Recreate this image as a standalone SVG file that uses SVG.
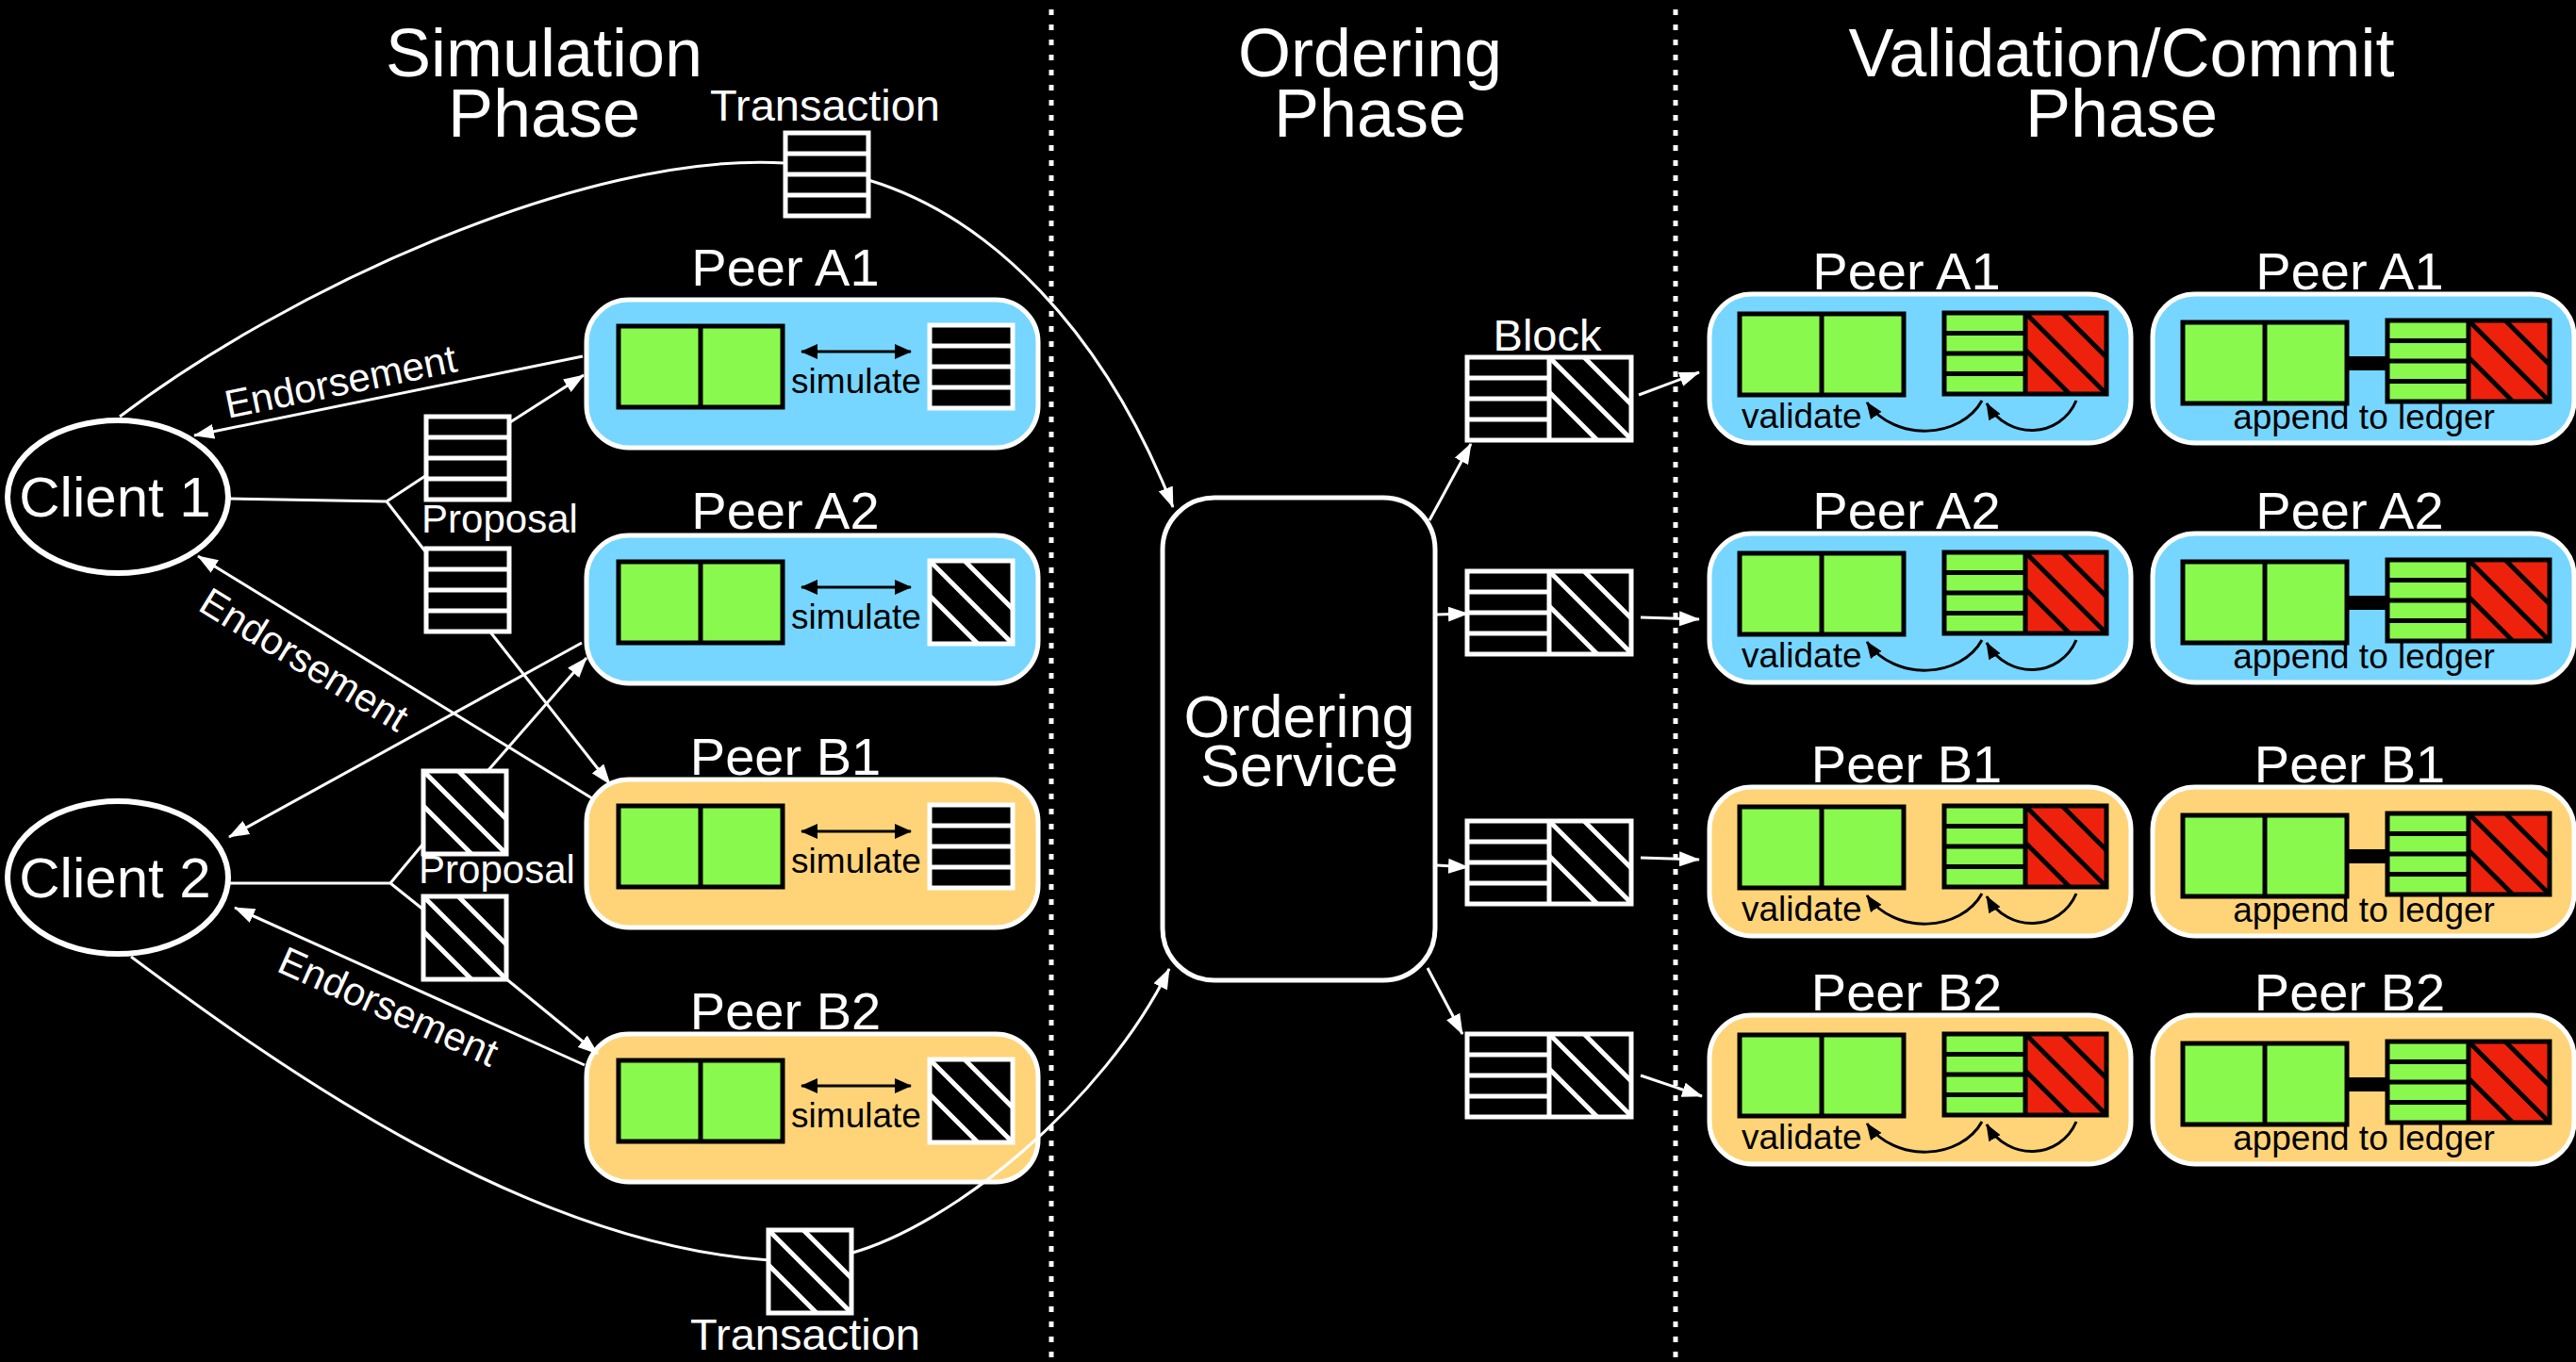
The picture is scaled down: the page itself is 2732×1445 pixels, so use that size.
<svg xmlns="http://www.w3.org/2000/svg" xmlns:xlink="http://www.w3.org/1999/xlink" width="2732" height="1445" viewBox="0 0 2732 1445">
  <style>
    text { font-family: "Liberation Sans", Arial, Helvetica, sans-serif; }
    .title { font-size: 72px; fill: #fff; text-anchor: middle; }
    .peer { font-size: 56px; fill: #fff; text-anchor: middle; }
    .client { font-size: 60px; fill: #fff; text-anchor: middle; }
    .lbl { font-size: 42px; fill: #fff; text-anchor: middle; }
    .tx { font-size: 47px; fill: #fff; text-anchor: middle; }
    .inner { font-size: 37px; fill: #000; }
    .mid { text-anchor: middle; }
    .box { stroke: #fff; stroke-width: 5; }
    .blue { fill: #76D6FF; }
    .tan { fill: #FFD479; }
    .conn { fill: none; stroke: #fff; stroke-width: 3; }
    .arr { marker-end: url(#ah); }
    .dark { fill: none; stroke: #000; stroke-width: 3; marker-end: url(#bh); }
    .darr { fill: none; stroke: #000; stroke-width: 3; marker-start: url(#bh2); marker-end: url(#bh2); }
    .divider { stroke: #fff; stroke-width: 5; stroke-dasharray: 6 10; }
  </style>
  <defs>
    <marker id="ah" markerUnits="userSpaceOnUse" markerWidth="22" markerHeight="16" refX="21" refY="8" orient="auto">
      <path d="M0,0 L22,8 L0,16 z" fill="#fff"/>
    </marker>
    <marker id="bh" markerUnits="userSpaceOnUse" markerWidth="18" markerHeight="14" refX="17" refY="7" orient="auto">
      <path d="M0,0 L18,7 L0,14 z" fill="#000"/>
    </marker>
    <marker id="bh2" markerUnits="userSpaceOnUse" markerWidth="18" markerHeight="16" refX="17" refY="8" orient="auto-start-reverse">
      <path d="M0,0 L18,8 L0,16 z" fill="#000"/>
    </marker>
    <!-- message with four entries (rows) -->
    <g id="txRows">
      <rect width="88" height="88" fill="#000" stroke="#fff" stroke-width="5"/>
      <path d="M0,22H88M0,44H88M0,66H88" stroke="#fff" stroke-width="5"/>
    </g>
    <!-- message drawn with diagonal hatching -->
    <g id="txHatch">
      <rect width="88" height="88" fill="#000" stroke="#fff" stroke-width="5"/>
      <path d="M37,0 L88,51 M0,0 L88,88 M0,37 L51,88" stroke="#fff" stroke-width="5"/>
    </g>
    <!-- world state: two green cells -->
    <g id="world">
      <rect width="174" height="86" fill="#8AF94E" stroke="#000" stroke-width="5"/>
      <path d="M87,0V86" stroke="#000" stroke-width="5"/>
    </g>
    <!-- ledger block: green rows plus red hatched half -->
    <g id="ledger">
      <rect width="86" height="86" fill="#8AF94E"/>
      <rect x="86" width="86" height="86" fill="#EE220C"/>
      <path d="M0,21.5H86M0,43H86M0,64.5H86" stroke="#000" stroke-width="5"/>
      <path d="M125,0 L172,47 M86,0 L172,86 M86,39 L133,86" stroke="#000" stroke-width="5"/>
      <rect width="172" height="86" fill="none" stroke="#000" stroke-width="5"/>
      <path d="M86,0V86" stroke="#000" stroke-width="5"/>
    </g>
    <!-- block: rows plus hatched half, white on black -->
    <g id="block">
      <rect width="174" height="88" fill="#000" stroke="#fff" stroke-width="5"/>
      <path d="M0,22H87M0,44H87M0,66H87M87,0V88" stroke="#fff" stroke-width="5"/>
      <path d="M124,0 L174,50 M87,0 L174,87 M87,37 L138,88" stroke="#fff" stroke-width="5"/>
    </g>
  </defs>

  <rect width="2732" height="1445" fill="#000"/>

  <!-- phase separators -->
  <g id="dividers">
    <line class="divider" x1="1115" y1="10" x2="1115" y2="1445"/>
    <line class="divider" x1="1777" y1="10" x2="1777" y2="1445"/>
  </g>

  <!-- phase titles -->
  <g id="titles">
    <text class="title" x="577" y="81">Simulation</text>
    <text class="title" x="577" y="145">Phase</text>
    <text class="title" x="1453" y="81">Ordering</text>
    <text class="title" x="1453" y="145">Phase</text>
    <text class="title" x="2250" y="81">Validation/Commit</text>
    <text class="title" x="2250" y="145">Phase</text>
  </g>

  <!-- clients -->
  <g id="client-1">
    <ellipse cx="125" cy="527" rx="117" ry="81" fill="#000" stroke="#fff" stroke-width="6"/>
    <text class="client" x="122" y="548">Client 1</text>
  </g>
  <g id="client-2">
    <ellipse cx="125" cy="931" rx="117" ry="81" fill="#000" stroke="#fff" stroke-width="6"/>
    <text class="client" x="122" y="952">Client 2</text>
  </g>

  <!-- simulation phase peers -->
  <g id="sim-peer-a1">
    <text class="peer" x="833" y="303">Peer A1</text>
    <rect class="box blue" x="622" y="318" width="479" height="157" rx="45"/>
    <use href="#world" x="656" y="346"/>
    <line class="darr" x1="850" y1="373" x2="966" y2="373"/>
    <text class="inner mid" x="908" y="417">simulate</text>
    <use href="#txRows" x="986" y="345"/>
  </g>
  <g id="sim-peer-a2">
    <text class="peer" x="833" y="561">Peer A2</text>
    <rect class="box blue" x="622" y="568" width="479" height="157" rx="45"/>
    <use href="#world" x="656" y="596"/>
    <line class="darr" x1="850" y1="623" x2="966" y2="623"/>
    <text class="inner mid" x="908" y="667">simulate</text>
    <use href="#txHatch" x="986" y="595"/>
  </g>
  <g id="sim-peer-b1">
    <text class="peer" x="833" y="822">Peer B1</text>
    <rect class="box tan" x="622" y="827" width="479" height="157" rx="45"/>
    <use href="#world" x="656" y="855"/>
    <line class="darr" x1="850" y1="882" x2="966" y2="882"/>
    <text class="inner mid" x="908" y="926">simulate</text>
    <use href="#txRows" x="986" y="854"/>
  </g>
  <g id="sim-peer-b2">
    <text class="peer" x="833" y="1092">Peer B2</text>
    <rect class="box tan" x="622" y="1097" width="479" height="157" rx="45"/>
    <use href="#world" x="656" y="1125"/>
    <line class="darr" x1="850" y1="1152" x2="966" y2="1152"/>
    <text class="inner mid" x="908" y="1196">simulate</text>
    <use href="#txHatch" x="986" y="1124"/>
  </g>

  <!-- ordering service -->
  <g id="ordering-service">
    <rect x="1233" y="528" width="289" height="512" rx="55" fill="#000" stroke="#fff" stroke-width="5"/>
    <text class="client" x="1378" y="782" style="font-size:63px">Ordering</text>
    <text class="client" x="1378" y="834" style="font-size:63px">Service</text>
  </g>

  <!-- validation peers -->
  <g id="val-peer-a1">
    <text class="peer" x="2022" y="307">Peer A1</text>
    <rect class="box blue" x="1813" y="312" width="447" height="158" rx="45"/>
    <use href="#world" x="1845" y="333"/>
    <use href="#ledger" x="2062" y="332"/>
    <text class="inner" x="1847" y="454">validate</text>
    <path class="dark" d="M2102,425 C2080,465 2010,470 1980,427"/>
    <path class="dark" d="M2202,425 C2185,465 2130,468 2107,428"/>
  </g>
  <g id="val-peer-a2">
    <text class="peer" x="2022" y="561">Peer A2</text>
    <rect class="box blue" x="1813" y="566" width="447" height="158" rx="45"/>
    <use href="#world" x="1845" y="587"/>
    <use href="#ledger" x="2062" y="586"/>
    <text class="inner" x="1847" y="708">validate</text>
    <path class="dark" d="M2102,679 C2080,719 2010,724 1980,681"/>
    <path class="dark" d="M2202,679 C2185,719 2130,722 2107,682"/>
  </g>
  <g id="val-peer-b1">
    <text class="peer" x="2022" y="830">Peer B1</text>
    <rect class="box tan" x="1813" y="835" width="447" height="158" rx="45"/>
    <use href="#world" x="1845" y="856"/>
    <use href="#ledger" x="2062" y="855"/>
    <text class="inner" x="1847" y="977">validate</text>
    <path class="dark" d="M2102,948 C2080,988 2010,993 1980,950"/>
    <path class="dark" d="M2202,948 C2185,988 2130,991 2107,951"/>
  </g>
  <g id="val-peer-b2">
    <text class="peer" x="2022" y="1072">Peer B2</text>
    <rect class="box tan" x="1813" y="1077" width="447" height="158" rx="45"/>
    <use href="#world" x="1845" y="1098"/>
    <use href="#ledger" x="2062" y="1097"/>
    <text class="inner" x="1847" y="1219">validate</text>
    <path class="dark" d="M2102,1190 C2080,1230 2010,1235 1980,1192"/>
    <path class="dark" d="M2202,1190 C2185,1230 2130,1233 2107,1193"/>
  </g>

  <!-- commit peers -->
  <g id="commit-peer-a1">
    <text class="peer" x="2492" y="307">Peer A1</text>
    <rect class="box blue" x="2283" y="312" width="447" height="158" rx="45"/>
    <use href="#world" x="2315" y="342"/>
    <rect x="2489" y="378" width="43" height="15" fill="#000"/>
    <use href="#ledger" x="2532" y="340"/>
    <text class="inner mid" x="2507" y="455">append to ledger</text>
  </g>
  <g id="commit-peer-a2">
    <text class="peer" x="2492" y="561">Peer A2</text>
    <rect class="box blue" x="2283" y="566" width="447" height="158" rx="45"/>
    <use href="#world" x="2315" y="596"/>
    <rect x="2489" y="632" width="43" height="15" fill="#000"/>
    <use href="#ledger" x="2532" y="594"/>
    <text class="inner mid" x="2507" y="709">append to ledger</text>
  </g>
  <g id="commit-peer-b1">
    <text class="peer" x="2492" y="830">Peer B1</text>
    <rect class="box tan" x="2283" y="835" width="447" height="158" rx="45"/>
    <use href="#world" x="2315" y="865"/>
    <rect x="2489" y="901" width="43" height="15" fill="#000"/>
    <use href="#ledger" x="2532" y="863"/>
    <text class="inner mid" x="2507" y="978">append to ledger</text>
  </g>
  <g id="commit-peer-b2">
    <text class="peer" x="2492" y="1072">Peer B2</text>
    <rect class="box tan" x="2283" y="1077" width="447" height="158" rx="45"/>
    <use href="#world" x="2315" y="1107"/>
    <rect x="2489" y="1143" width="43" height="15" fill="#000"/>
    <use href="#ledger" x="2532" y="1105"/>
    <text class="inner mid" x="2507" y="1220">append to ledger</text>
  </g>

  <!-- connectors -->
  <g id="connectors">
    <!-- transactions to ordering -->
    <path class="conn arr" d="M127,442 C300,310 620,160 833,173 L921,191 C1050,230 1170,350 1244,538"/>
    <path class="conn arr" d="M139,1015 C300,1135 560,1320 816,1337 L901,1330 C1010,1300 1170,1170 1240,1028"/>
    <!-- proposals from client 1 -->
    <path class="conn" d="M241,529 L410,532 L451,505 M410,532 L451,585"/>
    <path class="conn arr" d="M541,448 L619,398"/>
    <path class="conn arr" d="M518,668 L647,832"/>
    <!-- proposals from client 2 -->
    <path class="conn" d="M241,937 L414,937 L449,895 M414,937 L449,965"/>
    <path class="conn arr" d="M518,817 L622,698"/>
    <path class="conn arr" d="M535,1037 L634,1118"/>
    <!-- endorsements -->
    <path class="conn arr" d="M618,378 L206,462"/>
    <path class="conn arr" d="M628,847 L210,590"/>
    <path class="conn arr" d="M617,682 L243,888"/>
    <path class="conn arr" d="M620,1130 L249,963"/>
    <!-- ordering to blocks -->
    <path class="conn arr" d="M1516,552 L1560,471"/>
    <path class="conn arr" d="M1522,652 L1557,651"/>
    <path class="conn arr" d="M1522,918 L1557,920"/>
    <path class="conn arr" d="M1514,1027 L1551,1097"/>
    <!-- blocks to peers -->
    <path class="conn arr" d="M1738,419 L1802,395"/>
    <path class="conn arr" d="M1740,655 L1802,657"/>
    <path class="conn arr" d="M1740,910 L1802,912"/>
    <path class="conn arr" d="M1740,1141 L1805,1163"/>
  </g>

  <!-- messages: transactions, proposals, blocks -->
  <g id="tx-top">
    <use href="#txRows" x="833" y="141"/>
    <text class="tx" x="875" y="128">Transaction</text>
  </g>
  <g id="tx-bottom">
    <use href="#txHatch" x="815" y="1305"/>
    <text class="tx" x="854" y="1432">Transaction</text>
  </g>
  <g id="proposals-client-1">
    <use href="#txRows" x="452" y="442"/>
    <use href="#txRows" x="452" y="582"/>
    <text class="lbl" x="530" y="565">Proposal</text>
  </g>
  <g id="proposals-client-2">
    <use href="#txHatch" x="449" y="818"/>
    <use href="#txHatch" x="449" y="951"/>
    <text class="lbl" x="527" y="937">Proposal</text>
  </g>
  <g id="endorsement-labels">
    <text class="lbl" transform="translate(364,419) rotate(-11.6)">Endorsement</text>
    <text class="lbl" transform="translate(315,712) rotate(31.6)">Endorsement</text>
    <text class="lbl" transform="translate(406,1081) rotate(24.2)">Endorsement</text>
  </g>
  <g id="blocks">
    <text class="tx" x="1641" y="372">Block</text>
    <use href="#block" x="1556" y="379"/>
    <use href="#block" x="1556" y="606"/>
    <use href="#block" x="1556" y="871"/>
    <use href="#block" x="1556" y="1097"/>
  </g>
</svg>
